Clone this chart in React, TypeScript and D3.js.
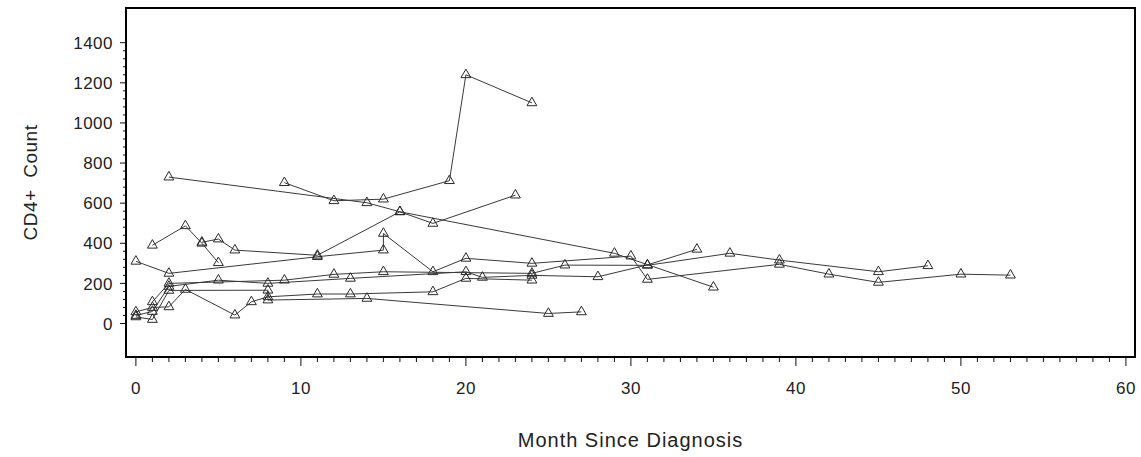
import React, { useEffect, useRef } from 'react';
import * as d3 from 'd3';

// CD4+ counts per subject (month since diagnosis, count)
const subjectIds = ['S1', 'S2', 'S3', 'S4', 'S5', 'S6', 'S7', 'S8', 'S9'];

const monthsS1 = [2, 14, 16, 29, 35];
const countsS1 = [730, 602, 557, 350, 181];

const monthsS2 = [9, 12, 15, 19, 20, 24];
const countsS2 = [702, 612, 620, 712, 1240, 1100];

const monthsS3 = [1, 3, 4, 5];
const countsS3 = [390, 487, 400, 303];

const monthsS4 = [4, 5, 6, 11, 16, 18, 23];
const countsS4 = [405, 421, 366, 340, 557, 499, 640];

const monthsS5 = [0, 2, 11, 15, 15, 18, 20, 24, 30, 31, 39, 42, 45, 50, 53];
const countsS5 = [310, 250, 333, 366, 449, 258, 325, 300, 336, 220, 295, 246, 205, 246, 241];

const monthsS6 = [1, 2, 9, 12, 15, 24, 26, 31, 36, 39, 45, 48];
const countsS6 = [108, 200, 216, 245, 258, 250, 291, 290, 350, 316, 258, 288];

const monthsS7 = [0, 1, 2, 5, 8, 13, 20, 21, 24, 28, 31, 34];
const countsS7 = [40, 60, 185, 216, 200, 225, 258, 230, 240, 233, 292, 370];

const monthsS8 = [0, 1, 2, 3, 6, 7, 8, 11, 13, 18, 20, 24];
const countsS8 = [58, 80, 83, 170, 42, 108, 133, 147, 147, 158, 225, 216];

const monthsS9 = [0, 1, 2, 8, 8, 14, 25, 27];
const countsS9 = [33, 20, 165, 166, 117, 125, 50, 58];

const allMonths = [monthsS1, monthsS2, monthsS3, monthsS4, monthsS5, monthsS6, monthsS7, monthsS8, monthsS9];
const allCounts = [countsS1, countsS2, countsS3, countsS4, countsS5, countsS6, countsS7, countsS8, countsS9];

const xMajorTicks = [0, 10, 20, 30, 40, 50, 60];
const yMajorTicks = [0, 200, 400, 600, 800, 1000, 1200, 1400];

const WIDTH = 1141;
const HEIGHT = 457;
const FONT = '"Liberation Sans", Arial, sans-serif';

export default function App() {
  const ref = useRef<SVGSVGElement | null>(null);

  useEffect(() => {
    if (!ref.current) return;
    const svg = d3.select(ref.current);
    svg.selectAll('*').remove();

    const plot = { left: 126, right: 1135, top: 8, bottom: 357 };

    const x = d3.scaleLinear().domain([-0.6, 60.55]).range([plot.left, plot.right]);
    const y = d3.scaleLinear().domain([-167, 1573]).range([plot.bottom, plot.top]);

    const subjects = subjectIds.map((id, i) => ({
      id,
      points: allMonths[i].map((m, j) => ({ month: m, count: allCounts[i][j] })),
    }));

    // x ticks: minor every month, major every 10
    const xMinor = d3.range(0, 61, 1);
    svg.append('g')
      .selectAll('line')
      .data(xMinor)
      .enter()
      .append('line')
      .attr('x1', d => x(d))
      .attr('x2', d => x(d))
      .attr('y1', plot.bottom)
      .attr('y2', d => plot.bottom + (d % 10 === 0 ? 9 : 5))
      .attr('stroke', '#111')
      .attr('stroke-width', 1);

    svg.append('g')
      .selectAll('text')
      .data(xMajorTicks)
      .enter()
      .append('text')
      .attr('x', d => x(d))
      .attr('y', 394)
      .attr('text-anchor', 'middle')
      .style('font-family', FONT)
      .style('font-size', '17px')
      .style('letter-spacing', '0.5px')
      .style('fill', '#222')
      .text(d => d);

    // y ticks: minor every 40, major every 200
    const yMinor = d3.range(0, 1401, 40);
    svg.append('g')
      .selectAll('line')
      .data(yMinor)
      .enter()
      .append('line')
      .attr('x1', d => plot.left - (d % 200 === 0 ? 6 : 3))
      .attr('x2', plot.left)
      .attr('y1', d => y(d))
      .attr('y2', d => y(d))
      .attr('stroke', '#111')
      .attr('stroke-width', 1);

    svg.append('g')
      .selectAll('text')
      .data(yMajorTicks)
      .enter()
      .append('text')
      .attr('x', 113)
      .attr('y', d => y(d))
      .attr('dy', '0.36em')
      .attr('text-anchor', 'end')
      .style('font-family', FONT)
      .style('font-size', '17px')
      .style('letter-spacing', '0.5px')
      .style('fill', '#222')
      .text(d => d);

    // subject lines
    const line = d3.line<{ month: number; count: number }>()
      .x(d => x(d.month))
      .y(d => y(d.count));

    svg.append('g')
      .selectAll('path')
      .data(subjects)
      .enter()
      .append('path')
      .attr('d', d => line(d.points))
      .attr('fill', 'none')
      .attr('stroke', '#3a3a3a')
      .attr('stroke-width', 1);

    // triangle markers
    const tri = d3.symbol().type(d3.symbolTriangle).size(42);
    svg.append('g')
      .selectAll('path')
      .data(subjects.flatMap(s => s.points))
      .enter()
      .append('path')
      .attr('d', tri)
      .attr('transform', d => `translate(${x(d.month)},${y(d.count)})`)
      .attr('fill', 'none')
      .attr('stroke', '#2a2a2a')
      .attr('stroke-width', 1);

    // frame
    svg.append('rect')
      .attr('x', plot.left)
      .attr('y', plot.top)
      .attr('width', plot.right - plot.left)
      .attr('height', plot.bottom - plot.top)
      .attr('fill', 'none')
      .attr('stroke', '#000')
      .attr('stroke-width', 2);

    // axis titles
    svg.append('text')
      .attr('x', (plot.left + plot.right) / 2)
      .attr('y', 447)
      .attr('text-anchor', 'middle')
      .style('font-family', FONT)
      .style('font-size', '20px')
      .style('letter-spacing', '1px')
      .style('fill', '#222')
      .text('Month Since Diagnosis');

    svg.append('text')
      .attr('transform', `translate(37, ${(plot.top + plot.bottom) / 2}) rotate(-90)`)
      .attr('text-anchor', 'middle')
      .attr('xml:space', 'preserve')
      .style('white-space', 'pre')
      .style('font-family', FONT)
      .style('font-size', '19px')
      .style('letter-spacing', '0.5px')
      .style('fill', '#222')
      .text('CD4+  Count');
  }, []);

  return (
    <svg
      ref={ref}
      width={WIDTH}
      height={HEIGHT}
      style={{ position: 'absolute', left: 0, top: 0, background: '#fff' }}
    />
  );
}
